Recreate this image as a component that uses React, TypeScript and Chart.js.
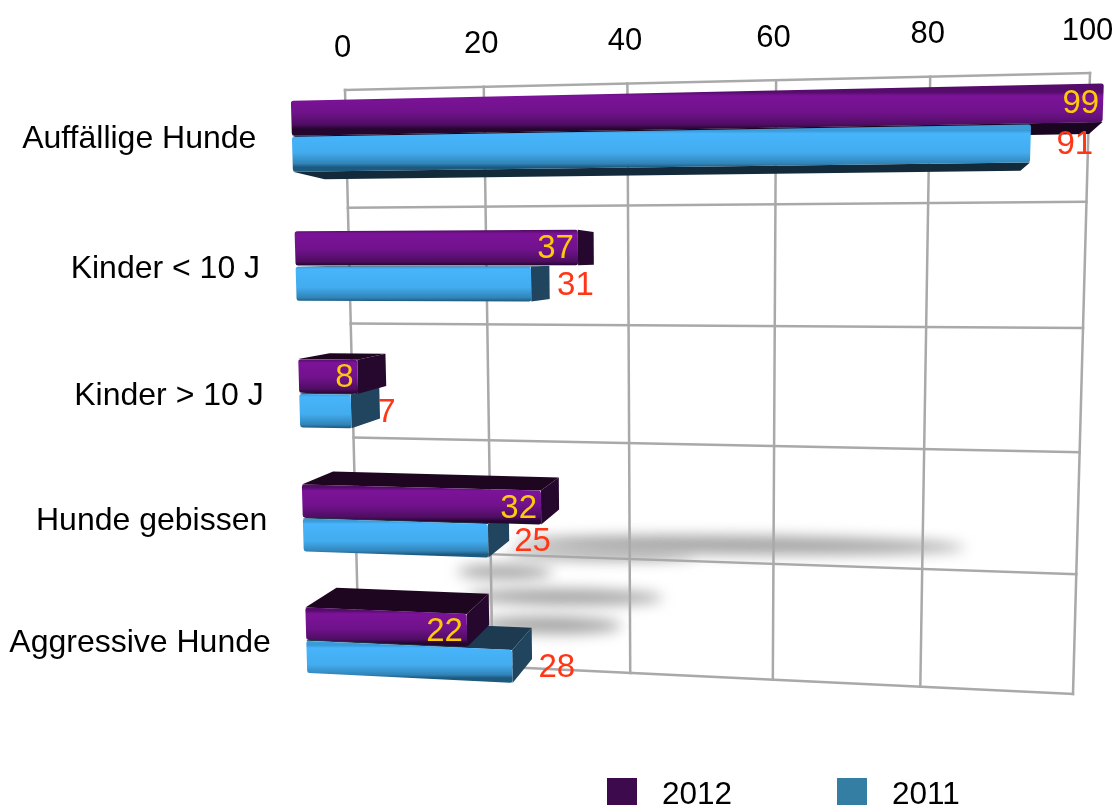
import React, { useEffect, useRef } from "react";
import { Chart, registerables } from "chart.js";

Chart.register(...registerables);

const categories = ["Auffällige Hunde", "Kinder < 10 J", "Kinder > 10 J", "Hunde gebissen", "Aggressive Hunde"];
const values2012 = [99, 37, 8, 32, 22];
const values2011 = [91, 31, 7, 25, 28];
const seriesLabels = ["2012", "2011"];
const FONT = '"Liberation Sans", Arial, sans-serif';

type P = { x: number; y: number };

// maps the unit square (s along the value axis, t down the category axis) on to a quadrilateral
function homography(c00: P, c10: P, c11: P, c01: P) {
  const dx1 = c10.x - c11.x, dx2 = c01.x - c11.x, sx = c00.x - c10.x + c11.x - c01.x;
  const dy1 = c10.y - c11.y, dy2 = c01.y - c11.y, sy = c00.y - c10.y + c11.y - c01.y;
  const det = dx1 * dy2 - dx2 * dy1;
  const g = (sx * dy2 - dx2 * sy) / det;
  const h = (dx1 * sy - sx * dy1) / det;
  const a = c10.x - c00.x + g * c10.x, b = c01.x - c00.x + h * c01.x, cc = c00.x;
  const d = c10.y - c00.y + g * c10.y, e = c01.y - c00.y + h * c01.y, f = c00.y;
  return (s: number, t: number): P => {
    const w = g * s + h * t + 1;
    return { x: (a * s + b * t + cc) / w, y: (d * s + e * t + f) / w };
  };
}

const wall = homography({ x: 345, y: 90 }, { x: 1090, y: 73 }, { x: 1073, y: 694 }, { x: 359, y: 660 });
const front = homography({ x: 290, y: 70.5 }, { x: 1114, y: 50 }, { x: 1090, y: 741 }, { x: 308, y: 700.5 });
const VP: P = { x: 860, y: 255 };
const DEPTH = 0.056;
const deep = (p: P): P => ({
  x: p.x + (VP.x - p.x) * DEPTH,
  y: p.y + (VP.y - p.y) * (p.y < VP.y ? DEPTH * 1.6 : DEPTH),
});

const poly = (ctx: CanvasRenderingContext2D, pts: P[], fill: string | CanvasGradient, radius = 0) => {
  ctx.beginPath();
  if (radius > 0) {
    const n = pts.length;
    const m0 = { x: (pts[n - 1].x + pts[0].x) / 2, y: (pts[n - 1].y + pts[0].y) / 2 };
    ctx.moveTo(m0.x, m0.y);
    pts.forEach((p, i) => {
      const nx = pts[(i + 1) % n];
      ctx.arcTo(p.x, p.y, nx.x, nx.y, radius);
    });
  } else {
    pts.forEach((p, i) => (i ? ctx.lineTo(p.x, p.y) : ctx.moveTo(p.x, p.y)));
  }
  ctx.closePath();
  ctx.fillStyle = fill;
  ctx.fill();
};

const THEME = [
  {
    stops: [[0, "#560c6b"], [0.1, "#7c1399"], [0.55, "#70128b"], [0.88, "#4f0d62"], [1, "#25062f"]],
    side: "#26082e", top: "#1e0620", under: "#1a0520", swatch: "#3d0a4d", text: "#FFC90A",
  },
  {
    stops: [[0, "#3a9bd8"], [0.08, "#47b4fb"], [0.6, "#42acee"], [0.9, "#3184b8"], [1, "#1d5a80"]],
    side: "#21455e", top: "#1e3a50", under: "#132a3a", swatch: "#357ea3", text: "#FF3516",
  },
];

const perspective = {
  id: "perspective",
  beforeDatasetsDraw(chart: any) {
    const { ctx, chartArea: area, scales } = chart;
    const sOf = (px: number) => (px - area.left) / (area.right - area.left);
    const tOf = (py: number) => (py - area.top) / (area.bottom - area.top);
    const xs = scales.x, ys = scales.y;

    // soft shadows on the back wall
    ctx.save();
    ctx.filter = "blur(7px)";
    ctx.fillStyle = "#a2a2a2";
    [[740, 545, 225, 9], [600, 555, 95, 5], [505, 572, 48, 7], [565, 597, 98, 8], [550, 625, 72, 8.5]].forEach(
      ([cx, cy, rx, ry]) => {
        ctx.beginPath();
        ctx.ellipse(cx, cy, rx, ry, 0.01, 0, Math.PI * 2);
        ctx.fill();
      }
    );
    ctx.restore();

    // back wall grid
    ctx.save();
    ctx.strokeStyle = "#a9a9a9";
    ctx.lineWidth = 2.5;
    ctx.lineCap = "square";
    const line = (a: P, b: P) => {
      ctx.beginPath();
      ctx.moveTo(a.x, a.y);
      ctx.lineTo(b.x, b.y);
      ctx.stroke();
    };
    xs.ticks.forEach((tk: any) => {
      const s = sOf(xs.getPixelForValue(tk.value));
      line(wall(s, 0), wall(s, 1));
    });
    for (let i = 0; i <= categories.length; i++) {
      const t = i / categories.length;
      line(wall(0, t), wall(1, t));
    }
    ctx.restore();

    // bars, far side first so that the fronts overlap correctly
    const metas = [chart.getDatasetMeta(0), chart.getDatasetMeta(1)];
    categories.forEach((_, i) => {
      const e0 = metas[0].data[i];
      const joint = front(0, tOf(e0.y + e0.height / 2));
      const order = deep(joint).y - joint.y < 0 ? [1, 0] : [0, 1];
      order.forEach((ds) => {
        const el = metas[ds].data[i];
        const th = THEME[ds];
        const s0 = sOf(el.base), s1 = sOf(el.x);
        const t0 = tOf(el.y - el.height / 2), t1 = tOf(el.y + el.height / 2);
        const f00 = front(s0, t0), f10 = front(s1, t0), f11 = front(s1, t1), f01 = front(s0, t1);
        const b00 = deep(f00), b10 = deep(f10), b11 = deep(f11), b01 = deep(f01);
        if (b00.y < f00.y) poly(ctx, [f00, f10, b10, b00], th.top);
        if (b01.y > f01.y) poly(ctx, [f01, f11, b11, b01], th.under);
        if (b10.x > f10.x) poly(ctx, [f10, f11, b11, b10], th.side);
        const midX = (f00.x + f10.x) / 2;
        const g = ctx.createLinearGradient(midX, (f00.y + f10.y) / 2, midX, (f01.y + f11.y) / 2);
        th.stops.forEach(([o, c]: any) => g.addColorStop(o, c));
        poly(ctx, [f00, f10, f11, f01], g, 2.5);
      });
    });

    // value labels
    ctx.save();
    ctx.textBaseline = "middle";
    ctx.font = `33px ${FONT}`;
    metas.forEach((m, ds) => {
      m.data.forEach((el: any, i: number) => {
        const p = front(sOf(el.x), tOf(el.y));
        const val = chart.data.datasets[ds].data[i];
        ctx.fillStyle = THEME[ds].text;
        ctx.textAlign = ds === 0 ? "right" : "left";
        ctx.fillText(String(val), p.x + (ds === 0 ? -4 : 26), p.y + 1.5);
      });
    });

    // value axis labels
    ctx.fillStyle = "#000";
    ctx.font = `31px ${FONT}`;
    ctx.textAlign = "center";
    xs.ticks.forEach((tk: any) => {
      const p = wall(sOf(xs.getPixelForValue(tk.value)), 0);
      ctx.fillText(String(tk.value), p.x - 2.5, p.y - 42);
    });

    // category labels
    ctx.font = `32px ${FONT}`;
    ctx.textAlign = "right";
    categories.forEach((c, i) => {
      const p = front(0, tOf(ys.getPixelForValue(i)));
      ctx.fillText(c, p.x - 35.5, p.y + 3);
    });

    // legend
    ctx.font = `31.5px ${FONT}`;
    ctx.textAlign = "left";
    seriesLabels.forEach((lab, k) => {
      const left = 607 + k * 230;
      ctx.fillStyle = THEME[k].swatch;
      ctx.fillRect(left, 778, 30, 30);
      ctx.fillStyle = "#000";
      ctx.fillText(lab, left + 55, 795);
    });
    ctx.restore();
    return false;
  },
};

export default function App() {
  const ref = useRef<HTMLCanvasElement>(null);
  useEffect(() => {
    const chart = new Chart(ref.current!, {
      type: "bar",
      data: {
        labels: categories,
        datasets: [
          { label: seriesLabels[0], data: values2012, backgroundColor: THEME[0].swatch },
          { label: seriesLabels[1], data: values2011, backgroundColor: THEME[1].swatch },
        ],
      },
      options: {
        indexAxis: "y",
        animation: false,
        responsive: false,
        devicePixelRatio: 1,
        categoryPercentage: 0.55,
        barPercentage: 0.97,
        layout: { padding: 0 },
        plugins: { legend: { display: false }, tooltip: { enabled: false } },
        scales: {
          x: { display: false, min: 0, max: 100, ticks: { stepSize: 20 } },
          y: { display: false },
        },
      } as any,
      plugins: [perspective],
    });
    return () => chart.destroy();
  }, []);
  return (
    <div style={{ position: "fixed", left: 0, top: 0, width: 1118, height: 805, background: "#fff" }}>
      <canvas ref={ref} width={1118} height={805} style={{ display: "block" }} />
    </div>
  );
}
